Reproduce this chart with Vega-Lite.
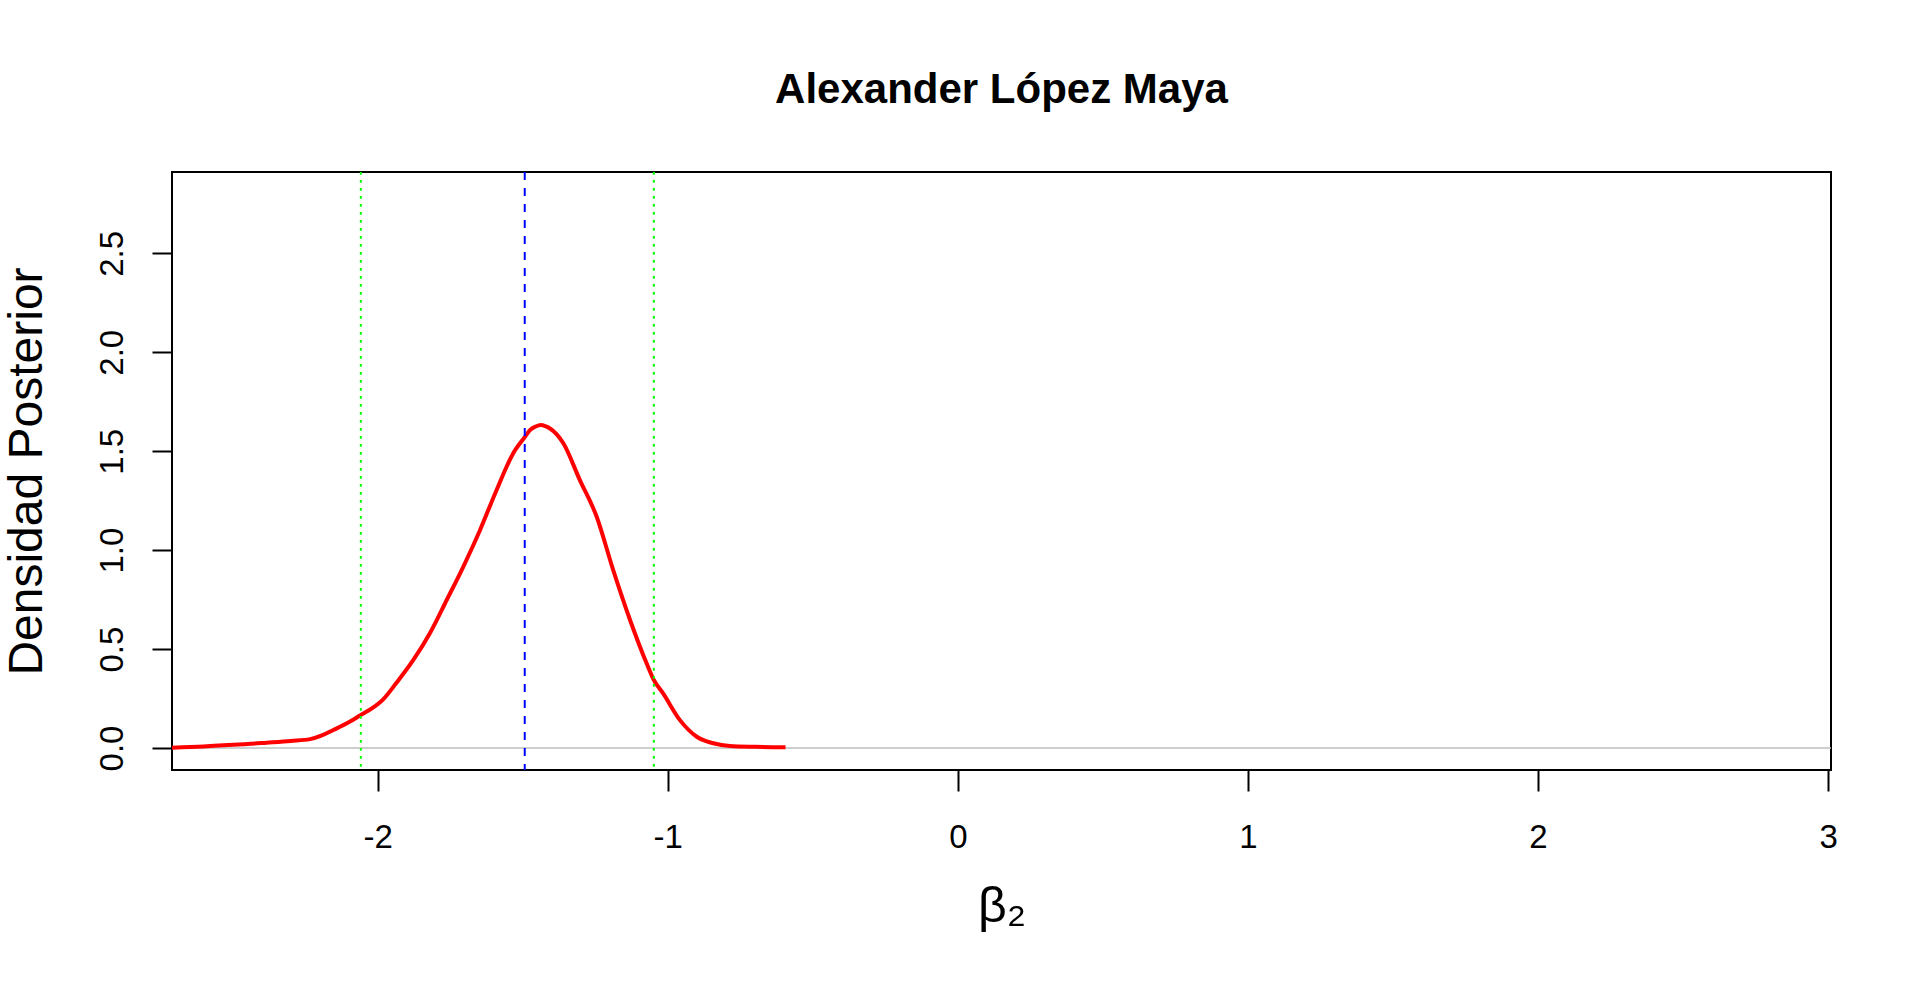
{
  "$schema": "https://vega.github.io/schema/vega-lite/v6.json",
  "width": 1659,
  "height": 598,
  "autosize": {"type": "none"},
  "padding": {"left": 172, "top": 172, "right": 89, "bottom": 215},
  "background": "white",
  "config": {
    "font": "Liberation Sans",
    "view": {"stroke": "black", "strokeWidth": 2}
  },
  "title": {
    "text": "Alexander López Maya",
    "font": "Liberation Sans",
    "fontSize": 42,
    "fontWeight": "bold",
    "color": "black",
    "anchor": "middle",
    "baseline": "alphabetic",
    "offset": 26
  },
  "datasets": {
    "curve": [
      {"beta": -2.709, "dens": 0.002},
      {"beta": -2.6, "dens": 0.008},
      {"beta": -2.532, "dens": 0.014},
      {"beta": -2.45, "dens": 0.02},
      {"beta": -2.383, "dens": 0.027},
      {"beta": -2.3, "dens": 0.036},
      {"beta": -2.233, "dens": 0.045},
      {"beta": -2.19, "dens": 0.065},
      {"beta": -2.153, "dens": 0.091},
      {"beta": -2.1, "dens": 0.13},
      {"beta": -2.058, "dens": 0.167},
      {"beta": -2.02, "dens": 0.2},
      {"beta": -1.981, "dens": 0.246},
      {"beta": -1.935, "dens": 0.33},
      {"beta": -1.877, "dens": 0.445},
      {"beta": -1.82, "dens": 0.58},
      {"beta": -1.762, "dens": 0.748},
      {"beta": -1.705, "dens": 0.916},
      {"beta": -1.647, "dens": 1.102},
      {"beta": -1.59, "dens": 1.304},
      {"beta": -1.533, "dens": 1.489},
      {"beta": -1.492, "dens": 1.573},
      {"beta": -1.475, "dens": 1.607},
      {"beta": -1.455, "dens": 1.625},
      {"beta": -1.438, "dens": 1.632},
      {"beta": -1.42, "dens": 1.625},
      {"beta": -1.406, "dens": 1.615},
      {"beta": -1.36, "dens": 1.54},
      {"beta": -1.303, "dens": 1.354},
      {"beta": -1.245, "dens": 1.169},
      {"beta": -1.188, "dens": 0.899},
      {"beta": -1.13, "dens": 0.647},
      {"beta": -1.073, "dens": 0.428},
      {"beta": -1.048, "dens": 0.344},
      {"beta": -1.016, "dens": 0.276},
      {"beta": -0.958, "dens": 0.141},
      {"beta": -0.9, "dens": 0.057},
      {"beta": -0.843, "dens": 0.024},
      {"beta": -0.786, "dens": 0.01},
      {"beta": -0.7, "dens": 0.006},
      {"beta": -0.594, "dens": 0.004}
    ],
    "interval": [
      {"beta": -2.058},
      {"beta": -1.048}
    ],
    "center": [
      {"beta": -1.493}
    ],
    "zero": [
      {"dens": 0}
    ]
  },
  "layer": [
    {
      "data": {"name": "zero"},
      "mark": {"type": "rule", "color": "#bebebe", "strokeWidth": 1.5},
      "encoding": {
        "y": {"field": "dens", "type": "quantitative", "scale": {"domain": [-0.111, 2.911], "nice": false, "zero": false}}
      }
    },
    {
      "data": {"name": "curve"},
      "mark": {"type": "line", "color": "#ff0000", "strokeWidth": 4, "clip": true, "interpolate": "monotone"},
      "encoding": {
        "x": {
          "field": "beta",
          "type": "quantitative",
          "scale": {"domain": [-2.709, 3.01], "nice": false, "zero": false},
          "axis": {
            "values": [-2, -1, 0, 1, 2, 3],
            "labelExpr": "'' + datum.value",
            "domain": false,
            "grid": false,
            "ticks": true,
            "tickSize": 21,
            "tickWidth": 2,
            "tickColor": "black",
            "labelFontSize": 33,
            "labelColor": "black",
            "labelFont": "Liberation Sans",
            "labelBaseline": "alphabetic",
            "labelPadding": 56,
            "labelFlush": false,
            "labelOverlap": false,
            "labelBound": false,
            "title": "β₂",
            "titleFont": "Liberation Sans",
            "titleFontSize": 50,
            "titleFontWeight": "normal",
            "titleColor": "black",
            "titleX": 829.5,
            "titleY": 151,
            "titleBaseline": "alphabetic",
            "titleAlign": "center"
          }
        },
        "y": {
          "field": "dens",
          "type": "quantitative",
          "scale": {"domain": [-0.111, 2.911], "nice": false, "zero": false},
          "axis": {
            "values": [0, 0.5, 1, 1.5, 2, 2.5],
            "format": ".1f",
            "domain": false,
            "grid": false,
            "ticks": true,
            "tickSize": 20,
            "tickWidth": 2,
            "tickColor": "black",
            "labelFontSize": 33,
            "labelColor": "black",
            "labelFont": "Liberation Sans",
            "labelAngle": 270,
            "labelAlign": "center",
            "labelBaseline": "alphabetic",
            "labelPadding": 30,
            "labelFlush": false,
            "labelOverlap": false,
            "labelBound": false,
            "title": "Densidad Posterior",
            "titleFont": "Liberation Sans",
            "titleFontSize": 48,
            "titleFontWeight": "normal",
            "titleColor": "black",
            "titleAngle": 270,
            "titleX": -131,
            "titleY": 299,
            "titleBaseline": "alphabetic",
            "titleAlign": "center"
          }
        }
      }
    },
    {
      "data": {"name": "interval"},
      "mark": {"type": "rule", "color": "#00ff00", "strokeWidth": 2, "strokeDash": [2.7, 5.3]},
      "encoding": {
        "x": {"field": "beta", "type": "quantitative"}
      }
    },
    {
      "data": {"name": "center"},
      "mark": {"type": "rule", "color": "#0000ff", "strokeWidth": 2, "strokeDash": [8, 8]},
      "encoding": {
        "x": {"field": "beta", "type": "quantitative"}
      }
    }
  ]
}
